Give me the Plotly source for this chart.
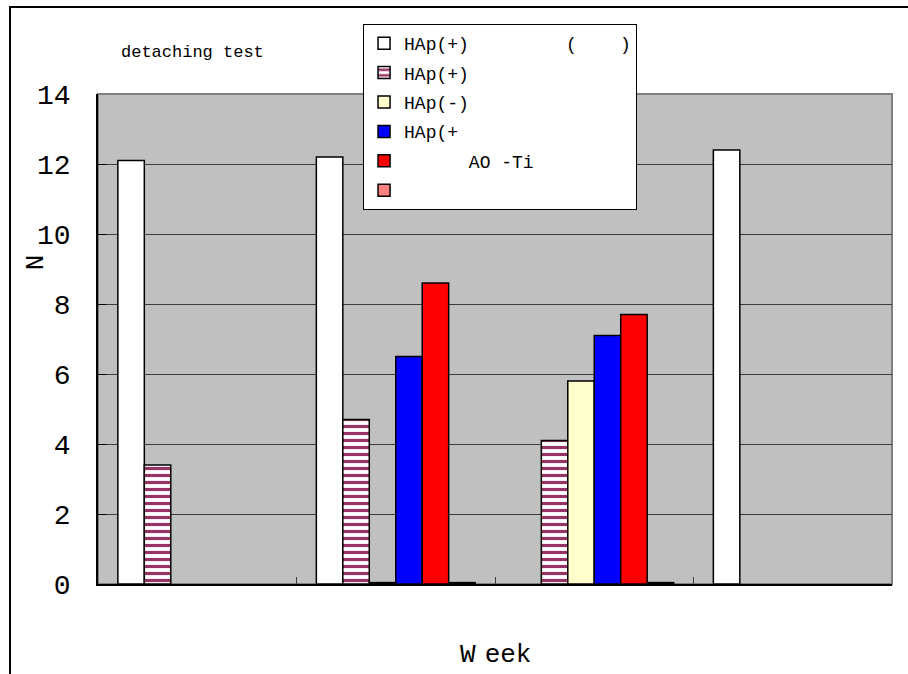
import plotly.graph_objects as go

# ---- data ----
categories = ["w1", "w2", "w3", "w4"]
series_names = [
    "HAp(+)\u00a0\u00a0\u00a0\u00a0\u00a0\u00a0\u00a0\u00a0\u00a0(\u00a0\u00a0\u00a0\u00a0)",
    "HAp(+)",
    "HAp(-)",
    "HAp(+",
    "\u00a0\u00a0\u00a0\u00a0\u00a0\u00a0AO\u00a0-Ti",
    " ",
]
s_white = [12.1, 12.2, None, 12.4]
s_striped = [3.4, 4.7, 4.1, None]
s_yellow = [None, 0.04, 5.8, None]
s_blue = [None, 6.5, 7.1, None]
s_red = [None, 8.6, 7.7, None]
s_pink = [None, 0.04, 0.04, None]
y_ticks = [0, 2, 4, 6, 8, 10, 12, 14]

series_values = [s_white, s_striped, s_yellow, s_blue, s_red, s_pink]
colors = ["#FFFFFF", "#FFFFFF", "#FFFFCC", "#0000FF", "#FF0000", "#FF8080"]

MONO = "Liberation Mono"

fig = go.Figure()
for i, (name, vals, col) in enumerate(zip(series_names, series_values, colors)):
    marker = dict(color=col, line=dict(color="#000000", width=1.5))
    if i == 1:
        marker["pattern"] = dict(shape="-", fgcolor="#993366", bgcolor="#FFFFFF",
                                 size=7, solidity=0.45, fgopacity=1)
    fig.add_trace(go.Bar(x=categories, y=vals, name=name, marker=marker,
                         legendgroup="g%d" % i, hoverinfo="skip"))

fig.update_layout(
    width=908, height=674,
    margin=dict(l=98, r=16, t=94, b=90),
    paper_bgcolor="#FFFFFF",
    plot_bgcolor="#C0C0C0",
    barmode="group",
    bargap=0.2,
    bargroupgap=0,
    font=dict(family=MONO, color="#000000"),
    showlegend=True,
    legend=dict(
        x=0.3338, y=1.1429, xanchor="left", yanchor="top",
        bgcolor="#FFFFFF", bordercolor="#000000", borderwidth=1,
        font=dict(family=MONO, size=18, color="#000000"),
        tracegroupgap=3,
        traceorder="grouped",
    ),
    xaxis=dict(
        type="category",
        showticklabels=False,
        tickson="boundaries",
        ticks="inside", ticklen=7, tickcolor="#404040",
        showgrid=False,
        showline=True, linecolor="#000000", linewidth=2,
        zeroline=False,
    ),
    yaxis=dict(
        range=[0, 14],
        tickvals=y_ticks,
        ticktext=[str(v) for v in y_ticks],
        tickfont=dict(family=MONO, size=28, color="#000000"),
        ticks="inside", ticklen=8, tickcolor="#000000",
        ticklabelstandoff=20,
        showgrid=True, gridcolor="#3C3C3C", gridwidth=1,
        showline=True, linecolor="#000000", linewidth=1.5,
        zeroline=False,
    ),
    shapes=[
        dict(type="rect", xref="paper", yref="paper", x0=0, x1=1, y0=0, y1=1,
             line=dict(color="#808080", width=2), layer="below"),
        dict(type="rect", xref="paper", yref="paper",
             x0=-0.1108, x1=1.03, y0=-0.2, y1=1.1776,
             line=dict(color="#000000", width=2), fillcolor="rgba(0,0,0,0)"),
    ],
    annotations=[
        dict(text="detaching test", xref="paper", yref="paper", x=0.1196, y=1.0857,
             xanchor="center", yanchor="middle",
             showarrow=False, font=dict(family=MONO, size=17, color="#000000")),
        dict(text="N", xref="paper", yref="paper", x=-0.078, y=0.657, textangle=-90,
             xanchor="center", yanchor="middle",
             showarrow=False, font=dict(family=MONO, size=26, color="#000000")),
        dict(text="W<span style=\"font-size:15px\">\u00a0</span>eek", xref="paper", yref="paper",
             x=0.501, y=-0.145, xanchor="center", yanchor="middle",
             showarrow=False, font=dict(family=MONO, size=26, color="#000000")),
    ],
)

fig.write_html("out.html")
